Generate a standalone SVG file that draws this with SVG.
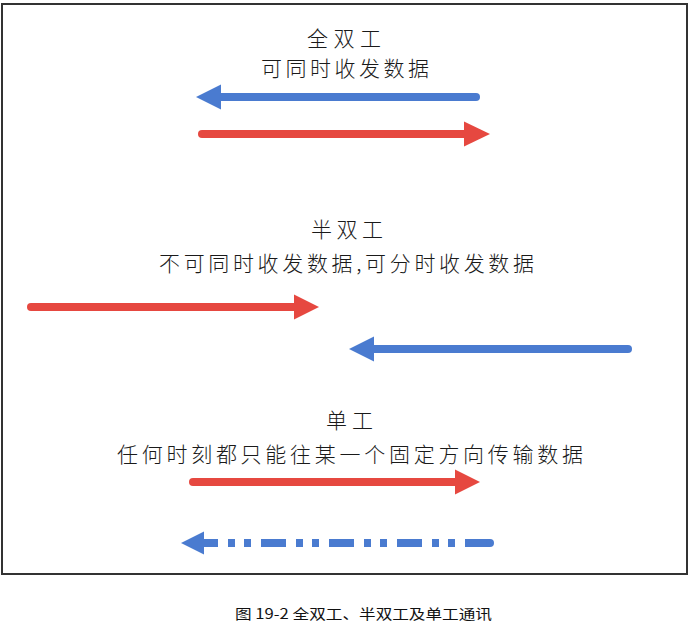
<svg xmlns="http://www.w3.org/2000/svg" width="691" height="627" viewBox="0 0 691 627">
<style>
.t{font-family:"Noto Sans CJK SC","Noto Sans",sans-serif;font-size:21px;font-weight:300;fill:#1a1a1a}
.cap{font-family:"Noto Sans CJK SC","Noto Sans",sans-serif;font-size:14px;font-weight:400;fill:#111}
.red{stroke:#E64840;stroke-width:8;fill:none;stroke-linecap:round}
.blue{stroke:#4A7BD0;stroke-width:8;fill:none;stroke-linecap:round}
.rh{fill:#E64840}
.bh{fill:#4A7BD0}
</style>
<rect x="0" y="0" width="691" height="627" fill="#fff"/>
<rect id="frame" x="2" y="4" width="685" height="570" fill="none" stroke="#333" stroke-width="2"/>
<g id="full-duplex">
<text class="t" x="307" y="45.5" textLength="74" lengthAdjust="spacing">全双工</text>
<text class="t" x="261" y="75.5" textLength="168" lengthAdjust="spacing">可同时收发数据</text>
</g>
<g id="half-duplex">
<text class="t" x="311" y="236.5" textLength="72" lengthAdjust="spacing">半双工</text>
<text class="t" x="159" y="271" textLength="375" lengthAdjust="spacing">不可同时收发数据,可分时收发数据</text>
</g>
<g id="simplex">
<text class="t" x="326" y="428" textLength="47" lengthAdjust="spacing">单工</text>
<text class="t" x="117" y="461.5" textLength="466" lengthAdjust="spacing">任何时刻都只能往某一个固定方向传输数据</text>
</g>
<g id="connectors">
<path class="blue" d="M476 97 H218"/>
<polygon class="bh" points="196,97 221,84.5 221,109.5"/>
<path class="red" d="M202 134 H466"/>
<polygon class="rh" points="490,134 464,121.5 464,146.5"/>
<path class="red" d="M31 307 H296"/>
<polygon class="rh" points="319,307 294,294.5 294,319.5"/>
<path class="blue" d="M628 349 H372"/>
<polygon class="bh" points="349,349 374,336.5 374,361.5"/>
<path class="red" d="M193 482 H457"/>
<polygon class="rh" points="480,482 455,469.5 455,494.5"/>
<path stroke="#4A7BD0" stroke-width="8" fill="none" stroke-dasharray="25 10 7 9 7 10" d="M490 543 H200"/>
<circle cx="490" cy="543" r="4" fill="#4A7BD0"/>
<polygon class="bh" points="181,543 204,531.5 204,554.5"/>
</g>
<text class="cap" x="235" y="619" textLength="257" lengthAdjust="spacingAndGlyphs">图 19-2 全双工、半双工及单工通讯</text>
</svg>
